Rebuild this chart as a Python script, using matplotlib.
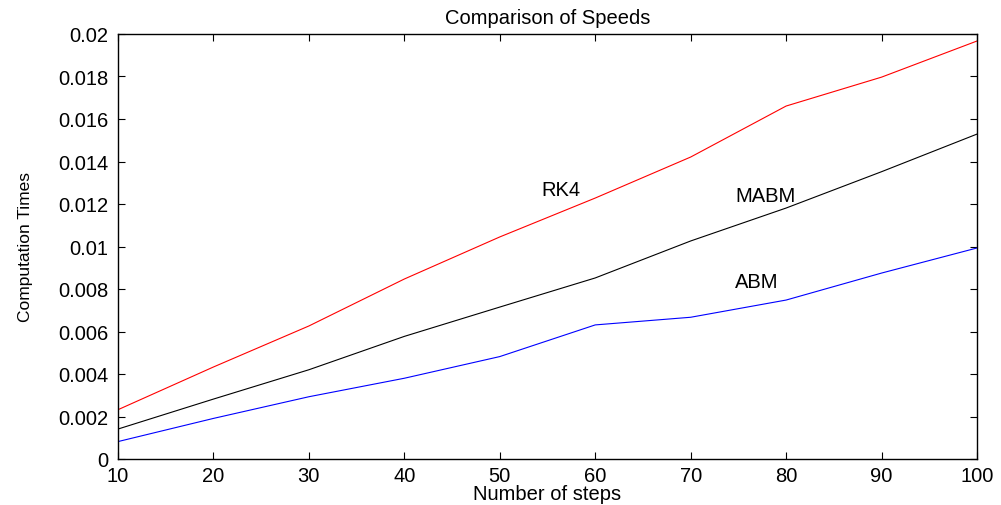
import matplotlib
matplotlib.use("Agg")
import matplotlib.pyplot as plt
from matplotlib.ticker import FuncFormatter, MultipleLocator

steps = [10, 20, 30, 40, 50, 60, 70, 80, 90, 100]
rk4 = [0.00232, 0.00433, 0.00626, 0.00847, 0.01045, 0.01228, 0.01421, 0.01661, 0.01797, 0.01967]
mabm = [0.00141, 0.00282, 0.00420, 0.00577, 0.00715, 0.00852, 0.01026, 0.01181, 0.01352, 0.01529]
abm = [0.00082, 0.00191, 0.00293, 0.00380, 0.00482, 0.00631, 0.00667, 0.00748, 0.00875, 0.00993]

labels = ["RK4", "MABM", "ABM"]
label_pos = [(56.4, 0.0127), (77.8, 0.01238), (76.9, 0.00833)]

plt.rcParams['font.family'] = ['Liberation Sans', 'DejaVu Sans']

fig = plt.figure(figsize=(10.01, 5.06), dpi=100)
ax = fig.add_axes([118/1001, 46/506, (977-118)/1001, (460-35)/506])

ax.plot(steps, rk4, color='#ff0000', lw=0.8)
ax.plot(steps, mabm, color='black', lw=0.8)
ax.plot(steps, abm, color='#0000ff', lw=0.8)

for t, (x, y) in zip(labels, label_pos):
    ax.text(x, y, t, ha='center', va='center', fontsize=14.5)

ax.set_xlim(10, 100)
ax.set_ylim(0, 0.02)
ax.xaxis.set_major_locator(MultipleLocator(10))
ax.yaxis.set_major_locator(MultipleLocator(0.002))
ax.yaxis.set_major_formatter(FuncFormatter(lambda v, p: "%g" % round(v, 6)))
ax.tick_params(direction='in', length=5, width=0.8, top=True, right=True,
               labelsize=14.5)
ax.tick_params(axis='x', pad=5)
ax.tick_params(axis='y', pad=7)
for s in ax.spines.values():
    s.set_linewidth(1.0)

ax.set_title("Comparison of Speeds", fontsize=14.5, pad=8)
ax.set_xlabel("Number of steps", fontsize=14.5, labelpad=-1)
ax.set_ylabel("Computation Times", fontsize=12.5, labelpad=18)

fig.savefig("out.png", dpi=100)
